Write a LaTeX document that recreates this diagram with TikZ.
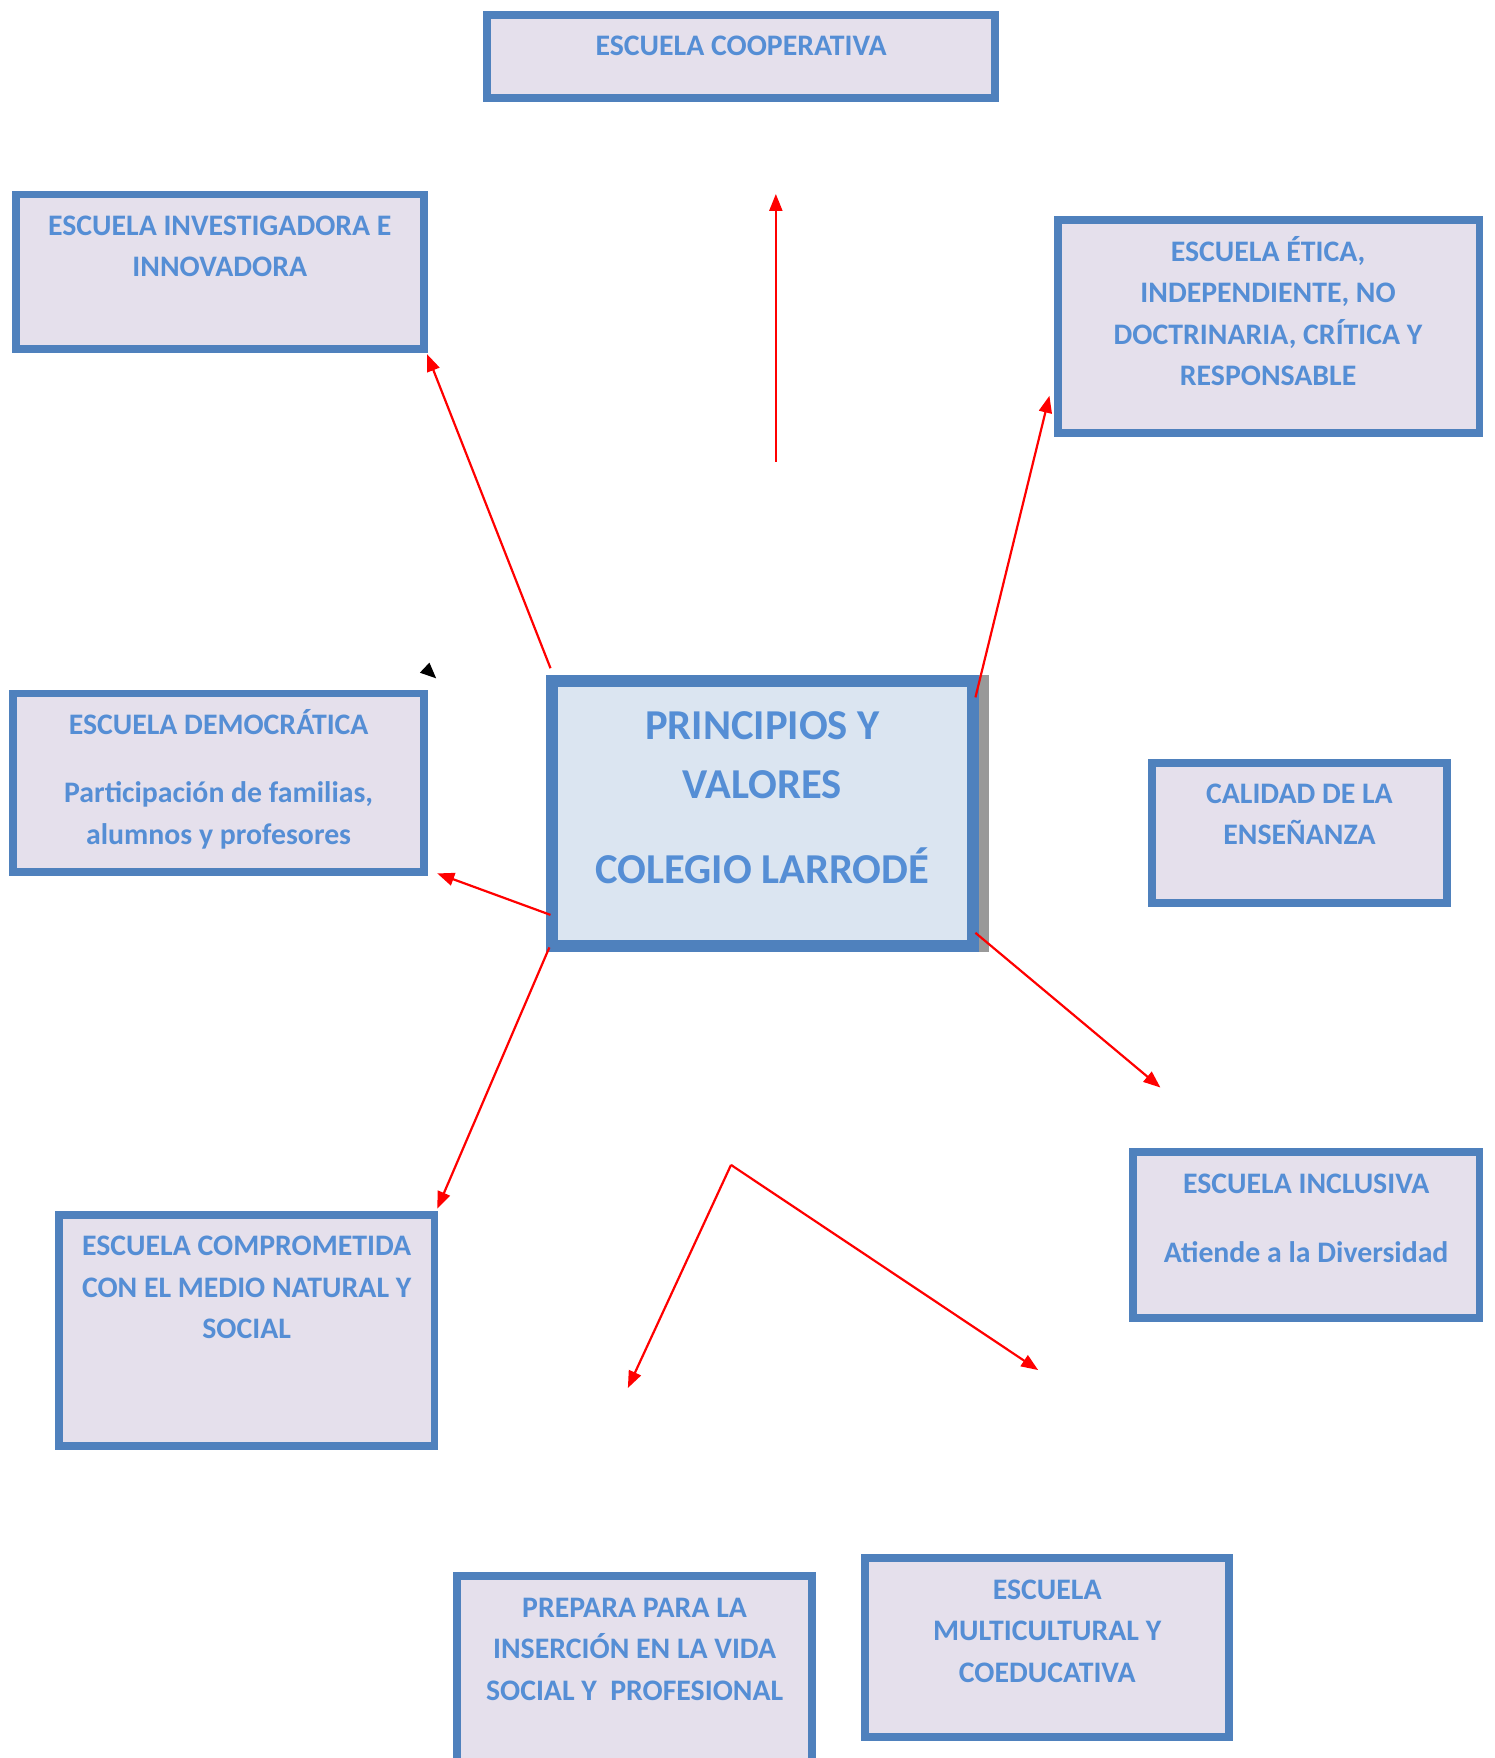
\documentclass[tikz,border=0pt]{standalone}
\usepackage{fontspec}
\setmainfont{Carlito}
\usetikzlibrary{arrows.meta,fit}
\definecolor{bordeazul}{RGB}{79,129,189}
\definecolor{textoazul}{RGB}{85,142,213}
\definecolor{fondolila}{RGB}{229,224,236}
\definecolor{fondoazul}{RGB}{219,229,241}
\tikzset{
	caja/.style={draw=bordeazul, line width=3.9pt, fill=fondolila, inner sep=0pt},
	texto/.style={text=textoazul, font=\fontsize{14.9}{20.75}\selectfont\bfseries, align=center, inner sep=0pt},
	flecha/.style={draw=red, line width=1.1pt, -{Triangle[length=8.5pt,width=6.5pt]}}}

\begin{document}
\begin{tikzpicture}[x=0.5607pt,y=-0.5607pt]
\useasboundingbox (0,0) rectangle (1333,1568);

% cajas
\node[caja, fit={(434.5,13.5) (887.5,87.5)}] (coop) {};
\node[caja, fit={(14.5,173.5) (378.5,311.5)}] (inv) {};
\node[caja, fit={(943.5,196.5) (1319.5,386.5)}] (etica) {};
\node[caja, fit={(11.5,618.5) (378.5,777.5)}] (demo) {};
\node[caja, fit={(1027.5,680.5) (1290.5,805.5)}] (calidad) {};
\node[caja, fit={(1010.5,1027.5) (1319.5,1175.5)}] (incl) {};
\node[caja, fit={(52.5,1083.5) (387.5,1289.5)}] (comp) {};
\node[caja, fit={(407.5,1405.5) (724.5,1590)}] (prep) {};
\node[caja, fit={(771.5,1389.5) (1096.5,1549.5)}] (multi) {};

% caja central con sombra
\fill[black!40] (860,602) rectangle (882,849);
\node[caja, line width=5.9pt, fill=fondoazul, fit={(492.25,607.25) (867.75,843.75)}] (centro) {};

% textos
\node[texto] (coopt) at (661,41) {ESCUELA COOPERATIVA};
\node[texto] (invt) at (196,219.5) {ESCUELA INVESTIGADORA E\\INNOVADORA};
\node[texto] (eticat) at (1131,277.5) {ESCUELA ÉTICA,\\INDEPENDIENTE, NO\\DOCTRINARIA, CRÍTICA Y\\RESPONSABLE};
\node[texto] (demot) at (195,695) {ESCUELA DEMOCRÁTICA\\[13.5pt]Participación de familias,\\alumnos y profesores};
\node[texto] (calidadt) at (1159,726.5) {CALIDAD DE LA\\ENSEÑANZA};
\node[texto] (inclt) at (1165,1086.5) {ESCUELA INCLUSIVA\\[13.5pt]Atiende a la Diversidad};
\node[texto] (compt) at (220,1148.5) {ESCUELA COMPROMETIDA\\CON EL MEDIO NATURAL Y\\SOCIAL};
\node[texto] (prept) at (566,1471) {PREPARA PARA LA\\INSERCIÓN EN LA VIDA\\SOCIAL Y\ \ PROFESIONAL};
\node[texto] (multit) at (934,1455) {ESCUELA\\MULTICULTURAL Y\\COEDUCATIVA};
\node[texto, font=\fontsize{21.3}{29.7}\selectfont\bfseries] (centrot) at (680,711.5) {PRINCIPIOS Y\\VALORES\\[12.9pt]COLEGIO LARRODÉ};

% flechas
\coordinate (a1) at (692,412);  \coordinate (b1) at (692,173);
\coordinate (a2) at (491,596);  \coordinate (b2) at (381,316);
\coordinate (a3) at (870,622);  \coordinate (b3) at (936,353);
\coordinate (a4) at (491,816);  \coordinate (b4) at (390,779);
\coordinate (a5) at (490,845);  \coordinate (b5) at (390,1078);
\coordinate (a6) at (870,832);  \coordinate (b6) at (1035,970);
\coordinate (v) at (652,1039);
\coordinate (b7) at (560,1238);
\coordinate (b8) at (926,1222);
\foreach \a/\b in {a1/b1,a2/b2,a3/b3,a4/b4,a5/b5,a6/b6,v/b7,v/b8}
	\draw[flecha] (\a) -- (\b);

% punta suelta
\fill (383,591) -- (374.5,600) -- (389,605) -- cycle;
\end{tikzpicture}
\end{document}
